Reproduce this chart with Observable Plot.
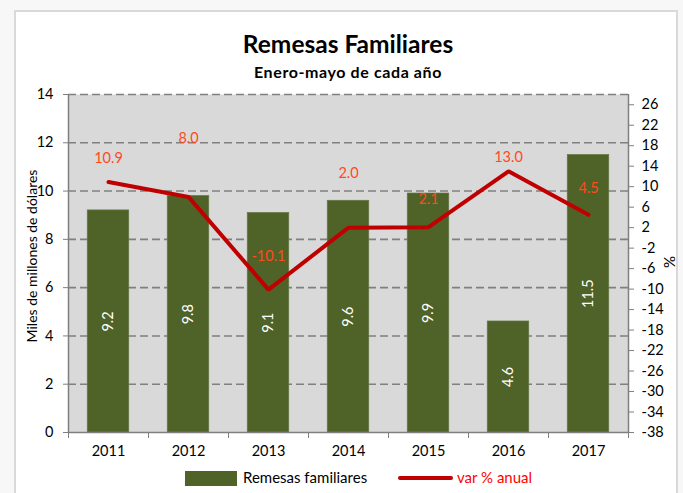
<!DOCTYPE html>
<html>
<head>
<meta charset="utf-8">
<script src="https://cdn.jsdelivr.net/npm/d3@7"></script>
<script src="https://cdn.jsdelivr.net/npm/@observablehq/plot@0.6"></script>
<style>
  html, body { margin: 0; padding: 0; background: #ffffff; }
  #wrap { position: relative; width: 683px; height: 493px; overflow: hidden; font-family: Lato, "Open Sans", sans-serif; background: #f7f7f7; }
  #card { position: absolute; left: 14px; top: 10px; width: 664px; height: 490px; background: #fff; border: 2px solid #d9d9d9; box-sizing: border-box; }
  #title { position: absolute; left: 0; top: 29px; width: 696px; text-align: center; font-weight: bold; font-size: 24.5px; color: #000; }
  #subtitle { position: absolute; left: 0; top: 62px; width: 696px; text-align: center; font-weight: bold; font-size: 16px; letter-spacing: 0.6px; color: #000; }
  #chart { position: absolute; left: 0; top: 80px; }
  #legend { position: absolute; top: 468px; left: 0; width: 683px; height: 20px; font-size: 15px; }
  .sw { position: absolute; }
  .rot { position: absolute; width: 300px; height: 20px; line-height: 20px; text-align: center; color: #000; transform: rotate(-90deg); transform-origin: 150px 10px; white-space: nowrap; }
  #pct { position: absolute; left: 659px; top: 252px; width: 20px; height: 20px; line-height: 20px; text-align: center; font-size: 15px; color: #000; transform: rotate(-90deg); }
</style>
</head>
<body>
<div id="wrap">
  <div id="card"></div>
  <div id="title">Remesas Familiares</div>
  <div id="subtitle">Enero-mayo de cada año</div>
  <div id="chart"></div>
  <div class="rot" style="left:-118px; top:246px; font-size:14px;">Miles de millones de dólares</div>
  <div id="pct">%</div>
  <div id="legend">
    <div class="sw" style="left:185px; top:3px; width:52px; height:15px; background:#4f6228;"></div>
    <div class="sw" style="left:243px; top:0px; color:#000;">Remesas familiares</div>
    <div class="sw" style="left:398px; top:8px; width:55px; height:4px; background:#c00000; border-radius:2px;"></div>
    <div class="sw" style="left:457px; top:0px; color:#ff0000;">var % anual</div>
  </div>
</div>
<script>
const years = [2011, 2012, 2013, 2014, 2015, 2016, 2017];
const remesas = [9.2, 9.8, 9.1, 9.6, 9.9, 4.6, 11.5];
const varAnual = [10.9, 8.0, -10.1, 2.0, 2.1, 13.0, 4.5];
const leftTicks = [0, 2, 4, 6, 8, 10, 12, 14];
const rightTicks = [-38, -34, -30, -26, -22, -18, -14, -10, -6, -2, 2, 6, 10, 14, 18, 22, 26];

// layout/style: how far above each point its % label sits (in % units)
const labelLift = [4.6, 11.4, 6.5, 10.6, 5.4, 2.7, 5.2];

const leftDomain = [0, 14];
const rightDomain = [-38, 28];
const toLeft = v => (v - rightDomain[0]) / (rightDomain[1] - rightDomain[0]) * (leftDomain[1] - leftDomain[0]) + leftDomain[0];
const fromLeft = y => (y - leftDomain[0]) / (leftDomain[1] - leftDomain[0]) * (rightDomain[1] - rightDomain[0]) + rightDomain[0];

const data = years.map((year, i) => ({year, remesas: remesas[i], pct: varAnual[i], lift: labelLift[i]}));
const boundaries = [2010.5, 2011.5, 2012.5, 2013.5, 2014.5, 2015.5, 2016.5, 2017.5];
const halfBar = 0.26;

const fontFamily = "Lato, 'Open Sans', sans-serif";

const chart = Plot.plot({
  width: 683,
  height: 382,
  marginLeft: 68,
  marginRight: 55,
  marginTop: 14,
  marginBottom: 30,
  x: {domain: [2010.5, 2017.5]},
  y: {domain: leftDomain},
  style: {fontFamily, fontSize: "14px", color: "#000", background: "transparent", overflow: "visible"},
  marks: [
    Plot.frame({fill: "#d9d9d9", stroke: null}),
    Plot.ruleY(leftTicks.slice(1), {stroke: "#808080", strokeWidth: 1.6, strokeDasharray: "8,4"}),
    Plot.rectY(data, {x1: d => d.year - halfBar, x2: d => d.year + halfBar, y: "remesas", fill: "#4f6228", stroke: "#6b7a4a", strokeWidth: 0.6}),
    Plot.text(data, {x: "year", y: d => d.remesas / 2, text: d => d.remesas.toFixed(1), rotate: -90, fill: "#ffffff", fontSize: 14.5}),
    Plot.ruleX([2010.5, 2017.5], {stroke: "#7f7f7f", strokeWidth: 1.5}),
    Plot.ruleY([0], {stroke: "#7f7f7f", strokeWidth: 1.5}),
    Plot.line(data, {x: "year", y: d => toLeft(d.pct), stroke: "#c00000", strokeWidth: 4, strokeLinejoin: "miter"}),
    Plot.text(data, {x: "year", y: d => toLeft(d.pct + d.lift), text: d => d.pct.toFixed(1), fill: "#ff4a1c", fontSize: 14.5}),
    Plot.axisY({anchor: "left", ticks: leftTicks, tickSize: 5, tickPadding: 10, stroke: "#7f7f7f", label: null, fontSize: 14.5}),
    Plot.axisY({anchor: "right", ticks: rightTicks.map(toLeft), tickFormat: y => String(Math.round(fromLeft(y))), tickSize: 5, tickPadding: 8, stroke: "#7f7f7f", label: null, fontSize: 14.5}),
    Plot.axisX({anchor: "bottom", ticks: boundaries, tickFormat: () => "", tickSize: 6, stroke: "#7f7f7f", label: null}),
    Plot.axisX({anchor: "bottom", ticks: years, tickFormat: d => String(d), tickSize: 0, tickPadding: 13, label: null, fontSize: 14.5})
  ]
});
document.getElementById("chart").appendChild(chart);
</script>
</body>
</html>
